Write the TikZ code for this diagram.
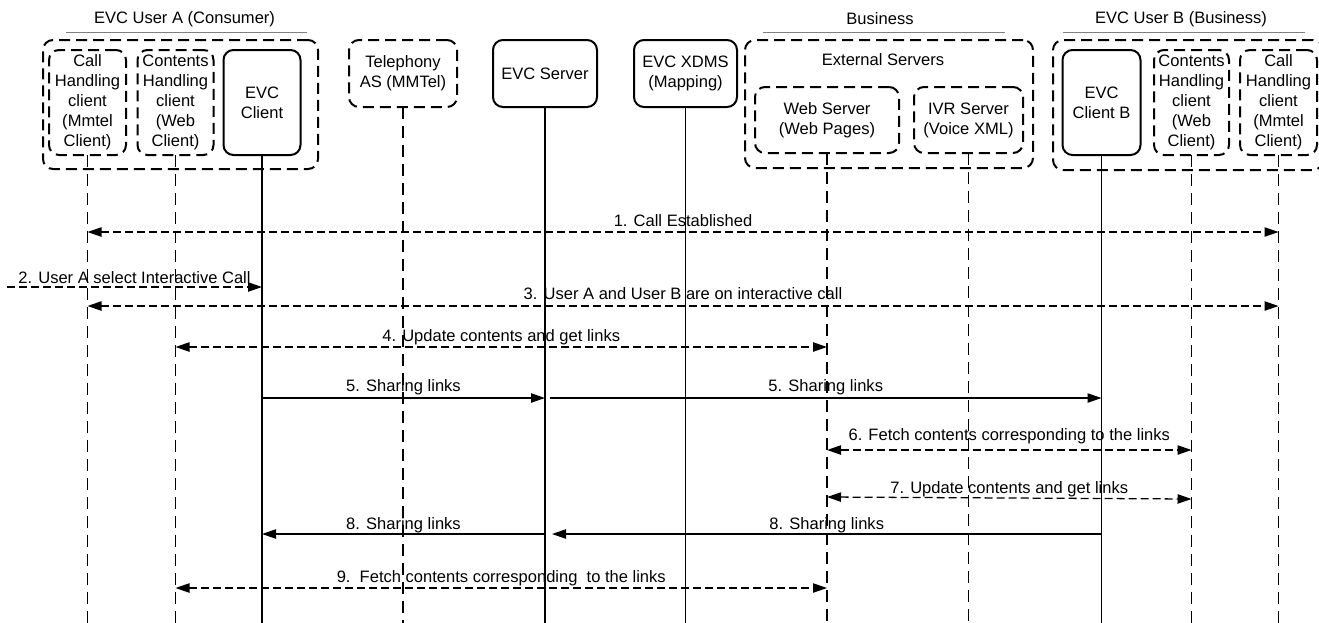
\documentclass[tikz,border=0pt]{standalone}
\usepackage{fontspec}
\setmainfont{Liberation Sans}
\usetikzlibrary{arrows.meta,calc}
\begin{document}
\begin{tikzpicture}[x=0.75pt,y=-0.75pt,
  font=\fontsize{12.4}{15}\selectfont,
  every node/.style={inner sep=0pt,outer sep=0pt},
  sz/.style 2 args={minimum width=#1*0.75pt,minimum height=#2*0.75pt},
  sbox/.style={draw,line width=1.5pt,rounded corners=7.5pt,align=center},
  dbox/.style={sbox,dash pattern=on 8.25pt off 4.5pt},
  titleline/.style={draw=gray,line width=0.75pt},
  life/.style={line width=1.4pt},
  dlife/.style={life,dash pattern=on 9pt off 5.25pt},
  msg/.style={line width=0.95pt,-{Triangle[length=10.5pt,width=7pt]}},
  bmsg/.style={line width=0.95pt,{Triangle[length=10.5pt,width=7pt]}-{Triangle[length=10.5pt,width=7pt]}},
  dashedmsg/.style={dash pattern=on 6pt off 3pt},
  lbl/.style={anchor=base,yshift=#1*0.75pt},
  lbl/.default=6
]
\useasboundingbox (0,0) rectangle (1319,622);

% group titles
\node (tA) at (184.5,19) {EVC User A (Consumer)};
\draw[titleline] (66,32) -- (307,32);
\node (tBus) at (880,19) {Business};
\draw[titleline] (763,32) -- (1005,32);
\node (tB) at (1181,19) {EVC User B (Business)};
\draw[titleline] (1063,32) -- (1305,32);

% outer groups
\node[dbox,sz={275}{129}] (gA) at (180.5,104.5) {};
\node[dbox,sz={288}{128}] (gExt) at (889,104) {};
\node (extlbl) at (883,60) {External Servers};
\node[dbox,sz={270}{130}] (gB) at (1188,105) {};

% participants
\node[dbox,sz={77}{105}] (callA) at (87.5,102.5) {Call\\Handling\\client\\(Mmtel\\Client)};
\node[dbox,sz={76}{105}] (contA) at (175.5,102.5) {Contents\\Handling\\client\\(Web\\Client)};
\node[sbox,sz={77}{105}] (evcA) at (262,102.5) {EVC\\Client};
\node[dbox,sz={108}{67}] (tel) at (403,73.5) {Telephony\\AS (MMTel)};
\node[sbox,sz={104}{67}] (srv) at (545,73.5) {EVC Server};
\node[sbox,sz={103}{67}] (xdms) at (685.5,73.5) {EVC XDMS\\(Mapping)};
\node[dbox,sz={144}{66}] (web) at (827,120) {Web Server\\(Web Pages)};
\node[dbox,sz={109}{66}] (ivr) at (968.5,120) {IVR Server\\(Voice XML)};
\node[sbox,sz={78}{105}] (evcB) at (1101.5,102.5) {EVC\\Client B};
\node[dbox,sz={75}{105}] (contB) at (1191.5,102.5) {Contents\\Handling\\client\\(Web\\Client)};
\node[dbox,sz={77}{105}] (callB) at (1278.5,102.5) {Call\\Handling\\client\\(Mmtel\\Client)};

% lifelines
\foreach \n in {callA,contA,tel,web,ivr,contB,callB}
  \draw[dlife] (\n.south) -- (\n.south |- 0,624);
\foreach \n in {evcA,srv,xdms,evcB}
  \draw[life] (\n.south) -- (\n.south |- 0,624);

% messages
\coordinate (m2s) at (7,287);

\draw[bmsg,dashedmsg] (callA.south |- 0,232) -- (callB.south |- 0,232)
  node[midway,lbl] {1. Call Established};
\draw[msg,dashedmsg] (m2s) -- (evcA.south |- m2s)
  node[midway,lbl=4] {2. User A select Interactive Call};
\draw[bmsg,dashedmsg] (callA.south |- 0,306) -- (callB.south |- 0,306)
  node[midway,lbl=7] {3. User A and User B are on interactive call};
\draw[bmsg,dashedmsg] (contA.south |- 0,347) -- (web.south |- 0,347)
  node[midway,lbl] {4. Update contents and get links};
\draw[msg] (evcA.south |- 0,398) -- (srv.south |- 0,398)
  node[midway,lbl=7] {5. Sharing links};
\draw[msg] ($(srv.south |- 0,398)+(5,0)$) -- (evcB.south |- 0,398)
  node[midway,lbl=7] {5. Sharing links};
\draw[bmsg,dashedmsg] (web.south |- 0,450) -- (contB.south |- 0,450)
  node[midway,lbl=10] {6. Fetch contents corresponding to the links};
\draw[bmsg,dashedmsg] (web.south |- 0,497) -- (contB.south |- 0,499)
  node[midway,lbl=5] {7. Update contents and get links};
\draw[msg] (evcB.south |- 0,534) -- ($(srv.south |- 0,534)+(7,0)$)
  node[midway,lbl=5] {8. Sharing links};
\draw[msg] (srv.south |- 0,534) -- (evcA.south |- 0,534)
  node[midway,lbl=5] {8. Sharing links};
\draw[bmsg,dashedmsg] (contA.south |- 0,588) -- (web.south |- 0,588)
  node[midway,lbl] {9.\ \ Fetch contents corresponding\ \ to the links};
\end{tikzpicture}
\end{document}
